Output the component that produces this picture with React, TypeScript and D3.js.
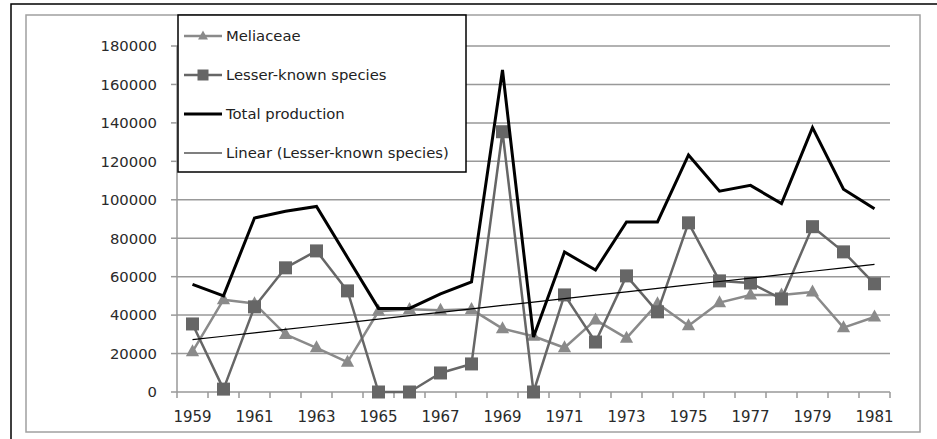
import React from "react";
import * as d3 from "d3";

const years = [1959,1960,1961,1962,1963,1964,1965,1966,1967,1968,1969,1970,1971,1972,1973,1974,1975,1976,1977,1978,1979,1980,1981];
const meliaceae = [21000,48000,46000,30000,23000,15500,42000,43000,42500,43000,33000,29000,23000,37500,28000,46000,34500,46500,50500,50500,52000,33500,39000];
const lesserKnown = [35400,1500,44300,64600,73400,52600,0,0,9900,14600,135400,0,50500,26000,60400,41700,88000,57800,56700,48400,86000,72900,56300];
const totalProduction = [56000,50000,90500,94000,96500,70000,43500,43500,51000,57300,167500,28600,72800,63500,88500,88500,123300,104500,107500,98000,137500,105500,95300];
const yTicks = [0,20000,40000,60000,80000,100000,120000,140000,160000,180000];
const legendLabels = ["Meliaceae","Lesser-known species","Total production","Linear (Lesser-known species)"];

const W = 937, H = 439;
const X0 = 177, X1 = 890, Y0 = 392, Y1 = 46;
const FONT = "'DejaVu Sans', sans-serif";
const C_MEL = "#8a8a8a";
const C_LES = "#666666";

export default function App() {
  const x = d3.scaleBand<number>().domain(years).range([X0, X1]);
  const cx = (i: number) => (x(years[i]) as number) + x.bandwidth() / 2;
  const y = d3.scaleLinear().domain([0, 180000]).range([Y0, Y1]);

  const line = (vals: number[]) =>
    d3.line<number>().x((_, i) => cx(i)).y((v) => y(v))(vals) as string;

  // least-squares trend of lesser-known species
  const n = years.length;
  const idx = years.map((_, i) => i + 1);
  const mx = d3.mean(idx) as number;
  const my = d3.mean(lesserKnown) as number;
  const slope =
    d3.sum(idx.map((t, i) => (t - mx) * (lesserKnown[i] - my))) /
    d3.sum(idx.map((t) => (t - mx) * (t - mx)));
  const trend = idx.map((t) => my + slope * (t - mx));

  const tri = (px: number, py: number, s: number) =>
    `M${px},${py - s * 0.62}L${px + s * 0.55},${py + s * 0.38}L${px - s * 0.55},${py + s * 0.38}Z`;

  const boundaries = d3.range(n + 1).map((i) => X0 + i * x.step());

  const legendY = [36, 75, 114, 153];

  return (
    <svg width={W} height={H} style={{ position: "absolute", left: 0, top: 0, background: "#fff" }} fontFamily={FONT}>
      <rect x={0} y={0} width={W} height={H} fill="#fff" />
      {/* outer frame */}
      <path d={`M11,${H + 5}V4H${W + 5}`} fill="none" stroke="#000" strokeWidth={1.5} />
      <rect x={26} y={15} width={894} height={417} fill="none" stroke="#a0a0a0" strokeWidth={1.5} />

      {/* gridlines */}
      {yTicks.map((t) => (
        <line key={t} x1={X0} x2={X1} y1={y(t)} y2={y(t)} stroke="#999" strokeWidth={1.5} />
      ))}
      {/* y axis */}
      <line x1={X0} x2={X0} y1={Y1} y2={Y0} stroke="#999" strokeWidth={1.5} />
      {yTicks.map((t) => (
        <g key={"yt" + t}>
          <line x1={X0 - 6} x2={X0} y1={y(t)} y2={y(t)} stroke="#999" strokeWidth={1.5} />
          <text x={157} y={y(t)} dy="0.36em" textAnchor="end" fontSize={14.8} fill="#2a2a2a">{t}</text>
        </g>
      ))}
      {/* x ticks */}
      {boundaries.map((b, i) => (
        <line key={"xt" + i} x1={b} x2={b} y1={Y0} y2={Y0 + 6} stroke="#999" strokeWidth={1.5} />
      ))}
      {years.map((yr, i) =>
        i % 2 === 0 ? (
          <text key={"xl" + yr} x={cx(i)} y={422} textAnchor="middle" fontSize={15} fill="#2a2a2a">{yr}</text>
        ) : null
      )}

      {/* series */}
      <path d={line(meliaceae)} fill="none" stroke={C_MEL} strokeWidth={2.5} strokeLinejoin="round" />
      {meliaceae.map((v, i) => (
        <path key={"m" + i} d={tri(cx(i), y(v), 12)} fill={C_MEL} />
      ))}
      <path d={line(lesserKnown)} fill="none" stroke={C_LES} strokeWidth={2.5} strokeLinejoin="round" />
      {lesserKnown.map((v, i) => (
        <rect key={"l" + i} x={cx(i) - 6.5} y={y(v) - 6.5} width={13} height={13} fill={C_LES} />
      ))}
      <path d={line(totalProduction)} fill="none" stroke="#000" strokeWidth={3} strokeLinejoin="miter" />
      <path d={line(trend)} fill="none" stroke="#000" strokeWidth={1.2} />

      {/* legend */}
      <rect x={178} y={15} width={288} height={157} fill="#fff" stroke="#000" strokeWidth={1.5} />
      {legendLabels.map((lab, i) => {
        const ly = legendY[i];
        return (
          <g key={lab}>
            {i === 0 && (
              <>
                <line x1={184} x2={222} y1={ly} y2={ly} stroke={C_MEL} strokeWidth={2.5} />
                <path d={tri(203, ly, 9)} fill={C_MEL} />
              </>
            )}
            {i === 1 && (
              <>
                <line x1={184} x2={222} y1={ly} y2={ly} stroke={C_LES} strokeWidth={2.5} />
                <rect x={197.5} y={ly - 5.5} width={11} height={11} fill={C_LES} />
              </>
            )}
            {i === 2 && <line x1={184} x2={222} y1={ly} y2={ly} stroke="#000" strokeWidth={3} />}
            {i === 3 && <line x1={184} x2={222} y1={ly} y2={ly} stroke="#000" strokeWidth={1.2} />}
            <text x={226} y={ly} dy="0.36em" fontSize={14.8} fill="#222">{lab}</text>
          </g>
        );
      })}
    </svg>
  );
}
